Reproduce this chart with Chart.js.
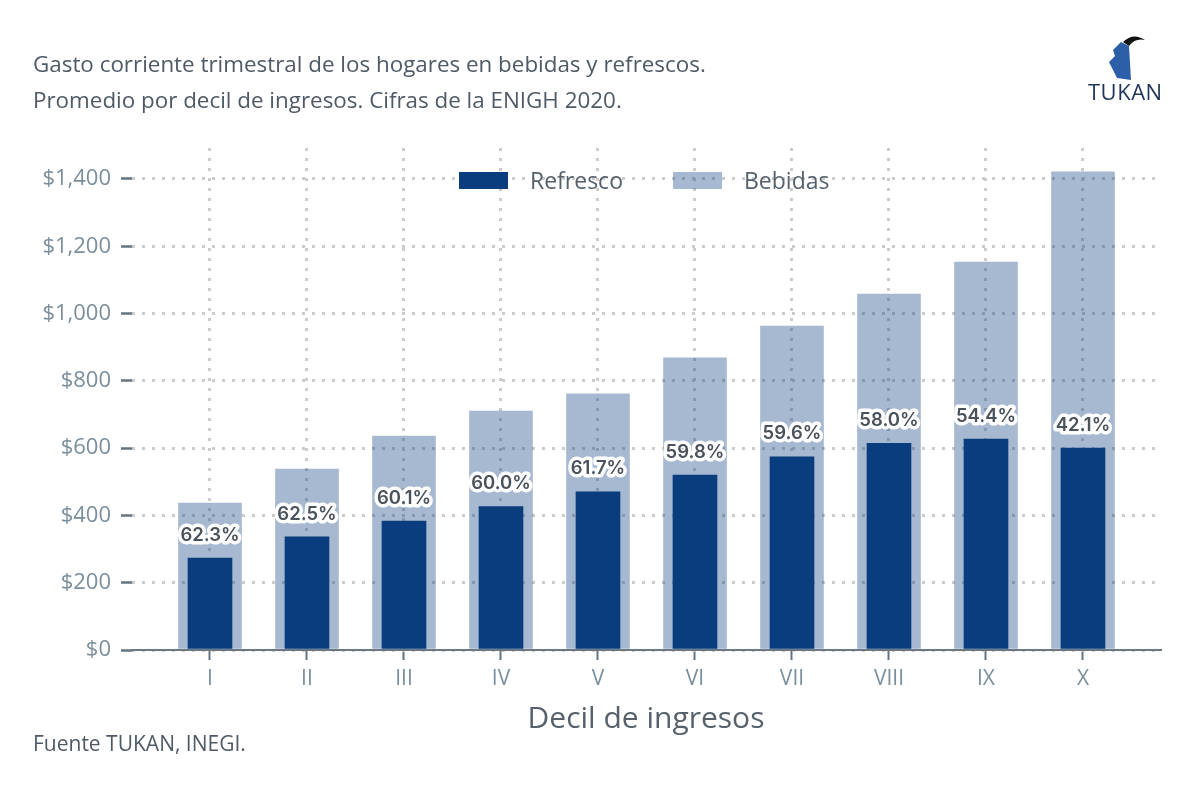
<!DOCTYPE html>
<html>
<head>
<meta charset="utf-8">
<script src="https://cdn.jsdelivr.net/npm/chart.js@4/dist/chart.umd.min.js"></script>
<style>
  body { margin: 0; background: #fff; font-family: "Open Sans", sans-serif; }
  #wrap { position: relative; width: 1200px; height: 786px; }
  #grafica { position: absolute; left: 0; top: 0; }
  .titulo { position: absolute; left: 33px; color: #4f5a66; font-size: 22.4px; white-space: nowrap; }
  .fuente { position: absolute; left: 33px; top: 729px; color: #4f5a66; font-size: 21px; }
  #leyenda { position: absolute; top: 164px; left: 459px; display: flex; align-items: center; color: #56616c; font-size: 23px; }
  #leyenda .caja { width: 49px; height: 17px; margin-right: 22px; }
  #leyenda .item { display: flex; align-items: center; margin-right: 50px; }
  #logo { position: absolute; left: 1085px; top: 20px; width: 80px; height: 90px; }
  #logo svg { position: absolute; left: 0; top: 0; }
  #logo span { position: absolute; left: 3px; top: 56px; font-size: 22px; color: #1f3557; letter-spacing: 0.5px; }
</style>
</head>
<body>
<div id="wrap">
  <canvas id="grafica" width="1200" height="786"></canvas>
  <div class="titulo" style="top:48px">Gasto corriente trimestral de los hogares en bebidas y refrescos.</div>
  <div class="titulo" style="top:84px">Promedio por decil de ingresos. Cifras de la ENIGH 2020.</div>
  <div class="fuente">Fuente TUKAN, INEGI.</div>
  <div id="leyenda"></div>
  <div id="logo">
    <svg width="80" height="62" viewBox="0 0 80 62">
      <path d="M38 22 Q48 12 60 20 Q50 18 44 26 Z" fill="#111"/>
      <polygon points="36,22 44,26 46,60 32,58 28,50 24,42 30,36 28,30" fill="#2d5ea8"/>
    </svg>
    <span>TUKAN</span>
  </div>
</div>
<script>
const deciles = ['I', 'II', 'III', 'IV', 'V', 'VI', 'VII', 'VIII', 'IX', 'X'];
const refresco = [273, 336, 383, 426, 470, 520, 574, 614, 627, 600];
const bebidas = [437, 538, 636, 710, 761, 868, 963, 1058, 1153, 1421];
const porcentajes = ['62.3%', '62.5%', '60.1%', '60.0%', '61.7%', '59.8%', '59.6%', '58.0%', '54.4%', '42.1%'];

const azul = 'rgb(10, 61, 126)';
const azul_claro = 'rgba(10, 61, 126, 0.36)';
const gris_texto = '#7b8e9c';
const gris_rejilla = '#cccccc';

// leyenda en html
const leyenda = document.getElementById('leyenda');
[['Refresco', azul], ['Bebidas', azul_claro]].forEach(([nombre, color]) => {
    const item = document.createElement('div');
    item.className = 'item';
    item.innerHTML = '<div class="caja" style="background:' + color + '"></div>' + nombre;
    leyenda.appendChild(item);
});

// etiquetas de porcentaje sobre las barras oscuras
const etiquetas = {
    id: 'etiquetas',
    afterDatasetsDraw(chart) {
        const ctx = chart.ctx;
        const meta = chart.getDatasetMeta(0);
        ctx.save();
        ctx.font = '600 18.5px Inter, sans-serif';
        ctx.textAlign = 'center';
        ctx.textBaseline = 'middle';
        ctx.lineJoin = 'round';
        meta.data.forEach((barra, i) => {
            const y = barra.y - 23;
            ctx.lineWidth = 7;
            ctx.strokeStyle = '#fff';
            ctx.strokeText(porcentajes[i], barra.x, y);
            ctx.fillStyle = '#4a525b';
            ctx.fillText(porcentajes[i], barra.x, y);
        });
        ctx.restore();
    }
};

const ctx = document.getElementById('grafica').getContext('2d');
new Chart(ctx, {
    type: 'bar',
    data: {
        datasets: [
            {
                label: 'Refresco',
                data: refresco.map((v, i) => ({x: i + 1, y: v})),
                backgroundColor: azul,
                barThickness: 44,
                grouped: false
            },
            {
                label: 'Bebidas',
                data: bebidas.map((v, i) => ({x: i + 1, y: v})),
                backgroundColor: azul_claro,
                barThickness: 63,
                grouped: false
            }
        ]
    },
    options: {
        responsive: false,
        animation: false,
        layout: { padding: { top: 148, right: 40, left: 0, bottom: 0 } },
        plugins: {
            legend: { display: false },
            tooltip: { enabled: false }
        },
        scales: {
            x: {
                type: 'linear',
                offset: false,
                min: 0.196,
                max: 10.794,
                afterBuildTicks: s => { s.ticks = deciles.map((_, i) => ({value: i + 1})); },
                afterFit: s => { s.height = 136; },
                ticks: {
                    callback: v => deciles[v - 1],
                    color: gris_texto,
                    font: { family: 'Open Sans', size: 21 },
                    padding: 6,
                    maxRotation: 0,
                    autoSkip: false
                },
                grid: {
                    offset: false,
                    color: gris_rejilla,
                    lineWidth: 3,
                    tickLength: 10,
                    tickColor: '#66737f',
                    tickWidth: 2,
                    tickBorderDash: []
                },
                border: { display: true, color: '#6b7985', width: 2, dash: [3, 7] },
                title: {
                    display: true,
                    text: 'Decil de ingresos',
                    color: '#56616c',
                    font: { family: 'Open Sans', size: 30 },
                    padding: { top: 0, bottom: 49 }
                }
            },
            y: {
                min: 0,
                max: 1492,
                afterFit: s => { s.width = 132; },
                ticks: {
                    stepSize: 200,
                    includeBounds: false,
                    callback: v => '$' + v.toLocaleString('en-US'),
                    color: gris_texto,
                    font: { family: 'Open Sans', size: 22 },
                    padding: 10
                },
                grid: {
                    color: gris_rejilla,
                    lineWidth: 3,
                    tickLength: 11,
                    tickColor: '#66737f',
                    tickWidth: 2.5,
                    tickBorderDash: []
                },
                border: { display: false, dash: [3, 7] }
            }
        }
    },
    plugins: [etiquetas]
});
</script>
</body>
</html>
